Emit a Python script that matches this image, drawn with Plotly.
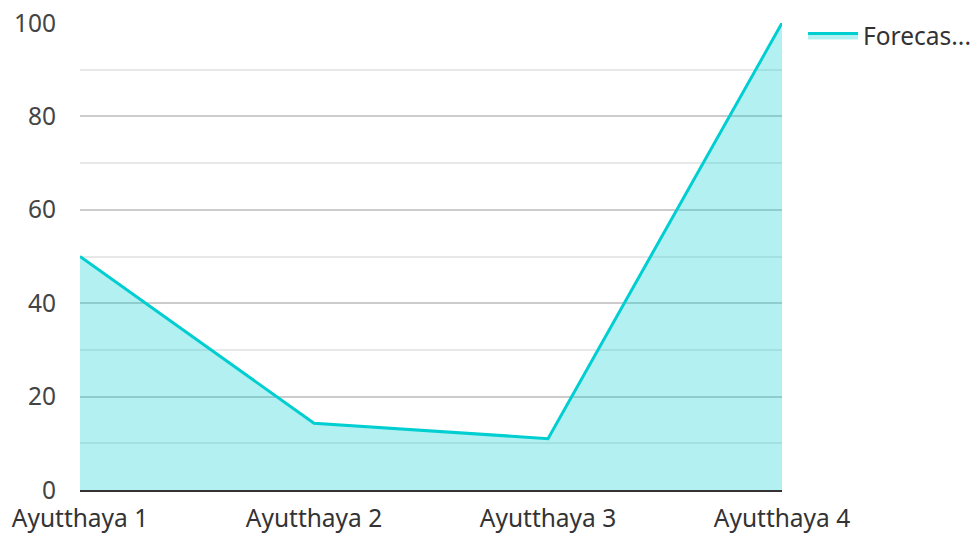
import plotly.graph_objects as go

categories = ["Ayutthaya 1", "Ayutthaya 2", "Ayutthaya 3", "Ayutthaya 4"]
forecast = [50, 14.3, 11.0, 100]
series_name = "Forecas..."
y_ticks = [0, 20, 40, 60, 80, 100]

fig = go.Figure()
fig.add_trace(go.Scatter(
    x=categories, y=forecast, name=series_name, mode="lines",
    line=dict(color="#00CED1", width=3),
    fill="tozeroy", fillcolor="rgba(0,206,209,0.3)",
))

fig.update_layout(
    width=977, height=533,
    margin=dict(l=80, r=195, t=23, b=43, autoexpand=False),
    paper_bgcolor="white", plot_bgcolor="white",
    font=dict(family="Noto Sans", size=24.5, color="#444"),
    showlegend=True,
    legend=dict(x=1.03, y=1.021, xanchor="left", yanchor="top",
                itemwidth=50,
                font=dict(size=24.5, color="#333"), bgcolor="rgba(0,0,0,0)"),
)
fig.update_xaxes(
    type="category", range=[0, 3], showgrid=False, automargin=False,
    showline=True, linecolor="#333", linewidth=2,
    ticks="", ticklabelstandoff=6, ticklabeloverflow="allow",
    tickfont=dict(size=24.5, color="#333"),
)
fig.update_yaxes(
    range=[0, 100], tickvals=y_ticks, showgrid=True, automargin=False,
    gridcolor="#cccccc", gridwidth=1.5, zeroline=False,
    minor=dict(dtick=10, showgrid=True, gridcolor="#e8e8e8", gridwidth=1.5),
    ticks="", ticklabelstandoff=23, ticklabeloverflow="allow",
    tickfont=dict(size=24.5, color="#444"),
)

fig.write_html("out.html", config={"displayModeBar": False},
               post_script="document.body.style.margin='0';")
